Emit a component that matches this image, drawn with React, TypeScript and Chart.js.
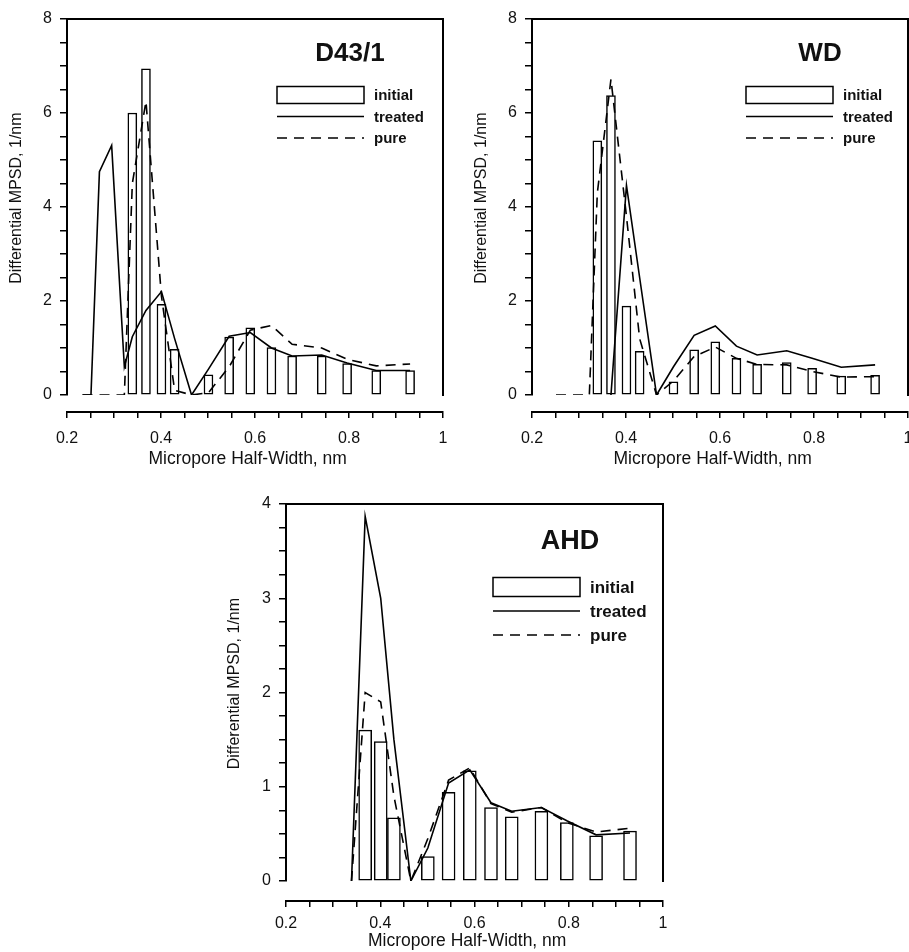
import React, { useEffect, useRef } from 'react';
import { Chart, registerables } from 'chart.js';

Chart.register(...registerables);

const FONT = '"Liberation Sans", Arial, Helvetica, sans-serif';

// Pore half-widths (nm) of the histogram bars and of the line vertices
const BAR_X = [0.339, 0.368, 0.401, 0.429, 0.501, 0.545, 0.59, 0.635, 0.679, 0.742, 0.796, 0.858, 0.93];
const LINE_X = [0.233, 0.251, 0.269, 0.295, 0.322, 0.339, 0.368, 0.401, 0.429, 0.465, 0.501, 0.545, 0.59, 0.635, 0.679, 0.742, 0.796, 0.858, 0.93];

// D43/1
const D43_INITIAL = [6.0, 6.94, 1.93, 0.97, 0.43, 1.23, 1.43, 1.01, 0.83, 0.83, 0.67, 0.52, 0.52];
const D43_TREATED = [0, 0, 4.75, 5.31, 0.6, 1.24, 1.8, 2.2, 1.2, 0, 0.55, 1.25, 1.33, 1.0, 0.83, 0.85, 0.68, 0.52, 0.52];
const D43_PURE = [0, 0, 0, 0, 0, 4.5, 6.25, 2.1, 0.1, 0, 0.05, 0.6, 1.38, 1.48, 1.08, 1.0, 0.76, 0.62, 0.66];

// WD
const WD_INITIAL = [5.41, 6.37, 1.89, 0.93, 0.28, 0.96, 1.13, 0.78, 0.65, 0.69, 0.57, 0.4, 0.42];
const WD_TREATED = [null, null, null, null, null, null, 0, 4.46, 2.5, 0, 0.6, 1.27, 1.47, 1.04, 0.85, 0.94, 0.78, 0.59, 0.64];
const WD_PURE = [null, 0, 0, 0, 0, 4.3, 6.72, 3.8, 1.2, 0, 0.3, 0.82, 1.02, 0.78, 0.65, 0.64, 0.5, 0.38, 0.39];

// AHD
const AHD_INITIAL = [null, 1.6, 1.48, 0.67, 0.26, 0.94, 1.17, 0.78, 0.68, 0.74, 0.62, 0.48, 0.53];
const AHD_TREATED = [null, null, null, null, null, 0, 3.87, 3.0, 1.5, 0, 0.35, 1.04, 1.18, 0.83, 0.74, 0.78, 0.64, 0.49, 0.51];
const AHD_PURE = [null, null, null, null, null, 0, 2.0, 1.9, 0.9, 0, 0.45, 1.07, 1.2, 0.82, 0.73, 0.78, 0.62, 0.52, 0.56];

const SERIES_LABELS = ['initial', 'treated', 'pure'];
const X_TITLE = 'Micropore Half-Width, nm';
const Y_TITLE = 'Differential MPSD, 1/nm';

type PanelSpec = {
  title: string;
  initial: (number | null)[];
  treated: (number | null)[];
  pure: (number | null)[];
  yMax: number;
  yStep: number;
  yLabelEvery: number;
  left: number;
  top: number;
  w: number;
  h: number;
  pad: { top: number; right: number; left: number; bottom: number };
  yWidth: number;
  gap: number;
  xHeight: number;
  yTitlePad: number;
  xLabelPad: number;
  xTitlePadBottom: number;
  barW: number;
  deco: {
    titleX: number; titleY: number; titleSize: number;
    boxX: number; boxW: number; boxH: number; textX: number;
    legendY: number; rowGap: number; legendSize: number;
  };
};

const PANELS: PanelSpec[] = [
  {
    title: 'D43/1', initial: D43_INITIAL, treated: D43_TREATED, pure: D43_PURE,
    yMax: 8, yStep: 0.5, yLabelEvery: 2,
    left: 0, top: 0, w: 455, h: 472,
    pad: { top: 19, right: 12, left: 0, bottom: 0 },
    yWidth: 67, gap: 17, xHeight: 60, yTitlePad: 7.4, xLabelPad: 11, xTitlePadBottom: 2.5, barW: 9,
    deco: { titleX: 350, titleY: 54, titleSize: 26, boxX: 277, boxW: 87, boxH: 17, textX: 374, legendY: 95, rowGap: 21.5, legendSize: 15 },
  },
  {
    title: 'WD', initial: WD_INITIAL, treated: WD_TREATED, pure: WD_PURE,
    yMax: 8, yStep: 0.5, yLabelEvery: 2,
    left: 455, top: 0, w: 454, h: 472,
    pad: { top: 19, right: 1, left: 0, bottom: 0 },
    yWidth: 77, gap: 17, xHeight: 60, yTitlePad: 17.4, xLabelPad: 11, xTitlePadBottom: 2.5, barW: 9,
    deco: { titleX: 365, titleY: 54, titleSize: 26, boxX: 291, boxW: 87, boxH: 17, textX: 388, legendY: 95, rowGap: 21.5, legendSize: 15 },
  },
  {
    title: 'AHD', initial: AHD_INITIAL, treated: AHD_TREATED, pure: AHD_PURE,
    yMax: 4, yStep: 0.25, yLabelEvery: 1,
    left: 200, top: 480, w: 480, h: 472,
    pad: { top: 24, right: 17, left: 0, bottom: 0 },
    yWidth: 86, gap: 20, xHeight: 51, yTitlePad: 25.4, xLabelPad: 7, xTitlePadBottom: 0, barW: 13,
    deco: { titleX: 370, titleY: 62, titleSize: 27, boxX: 293, boxW: 87, boxH: 19, textX: 390, legendY: 107, rowGap: 24, legendSize: 17 },
  },
];

function pairs(xs: number[], ys: (number | null)[]) {
  const out: { x: number; y: number }[] = [];
  xs.forEach((x, i) => {
    const y = ys[i];
    if (y !== null && y !== undefined) out.push({ x, y });
  });
  return out;
}

const DASH = [10, 7];

const panelDeco = {
  id: 'panelDeco',
  afterDraw(chart: any, _args: any, opts: any) {
    const { ctx, chartArea: a } = chart;
    ctx.save();
    // top and right frame lines
    ctx.strokeStyle = '#000';
    ctx.lineWidth = 2;
    ctx.lineCap = 'square';
    ctx.beginPath();
    ctx.moveTo(a.left, a.top);
    ctx.lineTo(a.right, a.top);
    ctx.lineTo(a.right, a.bottom);
    ctx.stroke();

    // panel title
    ctx.fillStyle = '#111';
    ctx.font = `bold ${opts.titleSize}px ${FONT}`;
    ctx.textAlign = 'center';
    ctx.textBaseline = 'middle';
    ctx.fillText(opts.title, opts.titleX, opts.titleY);

    // legend
    ctx.font = `bold ${opts.legendSize}px ${FONT}`;
    ctx.textAlign = 'left';
    chart.data.datasets.forEach((ds: any, i: number) => {
      const y = opts.legendY + i * opts.rowGap;
      ctx.lineCap = 'butt';
      if (ds.type === 'bar') {
        ctx.fillStyle = '#fff';
        ctx.fillRect(opts.boxX, y - opts.boxH / 2, opts.boxW, opts.boxH);
        ctx.strokeStyle = '#000';
        ctx.lineWidth = 1.5;
        ctx.setLineDash([]);
        ctx.strokeRect(opts.boxX, y - opts.boxH / 2, opts.boxW, opts.boxH);
      } else {
        ctx.strokeStyle = '#000';
        ctx.lineWidth = 1.6;
        ctx.setLineDash(ds.borderDash || []);
        ctx.beginPath();
        ctx.moveTo(opts.boxX, y);
        ctx.lineTo(opts.boxX + opts.boxW, y);
        ctx.stroke();
        ctx.setLineDash([]);
      }
      ctx.fillStyle = '#111';
      ctx.fillText(ds.label, opts.textX, y + 1);
    });
    ctx.restore();
  },
};

function makeConfig(p: PanelSpec): any {
  const isMultiple = (v: number, m: number) => Math.abs(v / m - Math.round(v / m)) < 1e-6;
  return {
    type: 'bar',
    data: {
      datasets: [
        {
          type: 'bar', label: SERIES_LABELS[0], data: pairs(BAR_X, p.initial),
          backgroundColor: '#fff', borderColor: '#000', borderWidth: 1.5, borderSkipped: false,
          barThickness: p.barW, order: 2, xAxisID: 'x', yAxisID: 'y',
        },
        {
          type: 'line', label: SERIES_LABELS[1], data: pairs(LINE_X, p.treated),
          borderColor: '#000', borderWidth: 1.6, pointRadius: 0, tension: 0, fill: false,
          order: 1, xAxisID: 'x', yAxisID: 'y',
        },
        {
          type: 'line', label: SERIES_LABELS[2], data: pairs(LINE_X, p.pure),
          borderColor: '#000', borderWidth: 1.6, borderDash: DASH, pointRadius: 0, tension: 0, fill: false,
          order: 0, xAxisID: 'x', yAxisID: 'y',
        },
      ],
    },
    options: {
      responsive: false,
      maintainAspectRatio: false,
      animation: false,
      events: [],
      layout: { padding: p.pad, autoPadding: false },
      plugins: {
        legend: { display: false },
        tooltip: { enabled: false },
        title: { display: false },
        panelDeco: { title: p.title, ...p.deco },
      },
      scales: {
        x: {
          type: 'linear', position: 'bottom', weight: 1,
          min: 0.2, max: 1, offset: false,
          grid: { display: true, offset: false, drawOnChartArea: false, drawTicks: true, tickLength: 6, color: '#000', lineWidth: 1.5 },
          border: { display: true, color: '#000', width: 2 },
          ticks: {
            stepSize: 0.05, maxTicksLimit: 100, autoSkip: false, maxRotation: 0, minRotation: 0,
            padding: p.xLabelPad, color: '#111', font: { family: FONT, size: 16 },
            callback: (v: any) => (isMultiple(Number(v), 0.2) ? String(Number(Number(v).toFixed(1))) : ''),
          },
          title: {
            display: true, text: X_TITLE + '\u00a0\u00a0\u00a0', color: '#111',
            font: { family: FONT, size: 17.5 }, padding: { top: 0, bottom: p.xTitlePadBottom },
          },
          afterFit: (s: any) => { s.height = p.xHeight; s.paddingLeft = 0; s.paddingRight = 0; },
        },
        gap: {
          type: 'linear', axis: 'x', position: 'bottom', weight: 0, display: true, min: 0, max: 1,
          ticks: { display: false }, grid: { display: false, drawTicks: false }, border: { display: false },
          afterFit: (s: any) => { s.height = p.gap; s.paddingLeft = 0; s.paddingRight = 0; },
        },
        y: {
          type: 'linear', position: 'left', min: 0, max: p.yMax,
          grid: { display: true, drawOnChartArea: false, drawTicks: true, tickLength: 7, color: '#000', lineWidth: 1.5 },
          border: { display: true, color: '#000', width: 2 },
          ticks: {
            stepSize: p.yStep, maxTicksLimit: 100, autoSkip: false, padding: 8, color: '#111',
            font: { family: FONT, size: 16 },
            callback: (v: any) => (isMultiple(Number(v), p.yLabelEvery) ? String(Math.round(Number(v))) : ''),
          },
          title: {
            display: true, text: '\u00a0\u00a0\u00a0\u00a0' + Y_TITLE, color: '#111',
            font: { family: FONT, size: 16 }, padding: { top: p.yTitlePad, bottom: 0 },
          },
          afterFit: (s: any) => { s.width = p.yWidth; s.paddingTop = 0; s.paddingBottom = 0; },
        },
      },
    },
    plugins: [panelDeco],
  };
}

function Panel({ p }: { p: PanelSpec }) {
  const ref = useRef<HTMLCanvasElement>(null);
  useEffect(() => {
    if (!ref.current) return;
    const chart = new Chart(ref.current, makeConfig(p));
    return () => chart.destroy();
  }, [p]);
  return (
    <canvas
      ref={ref}
      width={p.w}
      height={p.h}
      style={{ position: 'absolute', left: p.left, top: p.top, width: p.w, height: p.h, display: 'block' }}
    />
  );
}

export default function App() {
  return (
    <div style={{ position: 'absolute', left: 0, top: 0, width: 909, height: 952, background: '#fff', overflow: 'hidden' }}>
      {PANELS.map((p) => (
        <Panel key={p.title} p={p} />
      ))}
    </div>
  );
}
